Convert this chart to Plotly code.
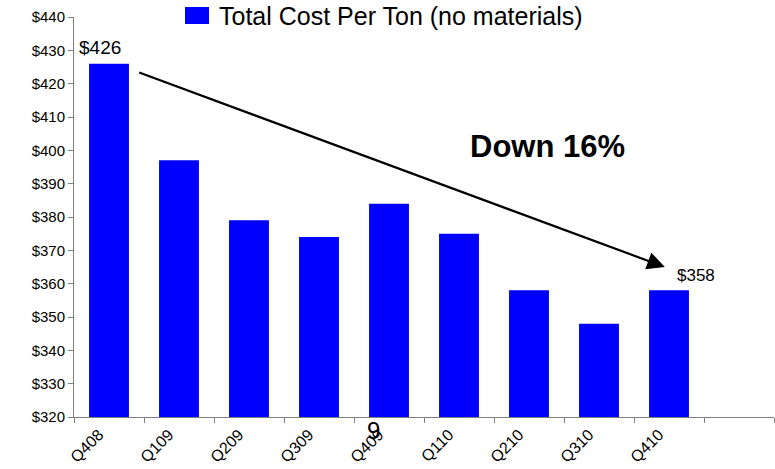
import plotly.graph_objects as go

# Quarterly cost per ton (excluding materials), in dollars
quarters = ["Q408", "Q109", "Q209", "Q309", "Q409", "Q110", "Q210", "Q310", "Q410"]
cost_per_ton = [426, 397, 379, 374, 384, 375, 358, 348, 358]
series_name = "Total Cost Per Ton (no materials)"
y_ticks = list(range(320, 441, 10))
y_tick_labels = [f"${v}" for v in y_ticks]

# one empty slot after the last quarter leaves room on the right
categories = quarters + [" "]

FONT = "Liberation Sans, Arial, sans-serif"
BLUE = "#0000FF"
AXIS_GRAY = "#808080"

fig = go.Figure()
fig.add_trace(go.Bar(
    x=quarters,
    y=cost_per_ton,
    marker=dict(color=BLUE, line=dict(width=0)),
    name=series_name,
    showlegend=False,
))

first, last = cost_per_ton[0], cost_per_ton[-1]
drop_pct = round((first - last) / first * 100)

annotations = [
    # value labels for the first and last quarter
    dict(x=quarters[0], y=first, text=f"${first}", showarrow=False,
         xanchor="center", yanchor="bottom", xshift=-9, yshift=4,
         font=dict(family=FONT, size=19, color="black")),
    dict(x=quarters[-1], y=last, text=f"${last}", showarrow=False,
         xanchor="center", yanchor="bottom", xshift=27, yshift=3,
         font=dict(family=FONT, size=17, color="black")),
    # trend arrow
    dict(x=7.94, y=365.0, ax=0.41, ay=423.5, xref="x", yref="y",
         axref="x", ayref="y", text="", showarrow=True,
         arrowhead=2, arrowsize=1.6, arrowwidth=2.2, arrowcolor="black",
         standoff=0, startstandoff=0),
    dict(x=(547 - 74) / 700, y=(417 - 146) / 400, xref="paper", yref="paper",
         text=f"<b>Down {drop_pct}%</b>", showarrow=False,
         xanchor="center", yanchor="middle",
         font=dict(family=FONT, size=31, color="black")),
    # legend text
    dict(x=(217 - 74) / 700, y=(417 - 16) / 400, xref="paper", yref="paper",
         text=series_name, showarrow=False, xanchor="left", yanchor="middle",
         font=dict(family=FONT, size=25, color="black")),
    # page number
    dict(x=(373 - 74) / 700, y=(417 - 431) / 400, xref="paper", yref="paper",
         text="9", showarrow=False, xanchor="center", yanchor="middle",
         font=dict(family=FONT, size=24, color="black")),
]

shapes = [
    # legend swatch
    dict(type="rect", xref="paper", yref="paper",
         x0=(185 - 74) / 700, x1=(209 - 74) / 700,
         y0=(417 - 24) / 400, y1=(417 - 7) / 400,
         fillcolor=BLUE, line=dict(width=0)),
]

fig.update_layout(
    width=775, height=469,
    margin=dict(l=74, r=1, t=17, b=52, autoexpand=False),
    paper_bgcolor="white", plot_bgcolor="white",
    bargap=0.43,
    annotations=annotations,
    shapes=shapes,
    font=dict(family=FONT, color="black"),
)

fig.update_xaxes(
    type="category",
    categoryorder="array", categoryarray=categories,
    range=[-0.5, len(categories) - 0.5],
    tickson="boundaries",
    ticks="outside", ticklen=5, tickcolor=AXIS_GRAY, tickwidth=1,
    showline=True, linecolor=AXIS_GRAY, linewidth=1,
    showgrid=False, zeroline=False,
    automargin=False,
    tickangle=-45,
    ticklabelstandoff=1, ticklabelshift=-10,
    tickfont=dict(family=FONT, size=16, color="black"),
)

fig.update_yaxes(
    range=[320, 440],
    tickvals=y_ticks, ticktext=y_tick_labels,
    ticks="outside", ticklen=5, tickcolor=AXIS_GRAY, tickwidth=1,
    showline=True, linecolor=AXIS_GRAY, linewidth=1,
    showgrid=False, zeroline=False,
    automargin=False,
    tickfont=dict(family=FONT, size=15, color="black"),
)

fig.write_html("out.html")
